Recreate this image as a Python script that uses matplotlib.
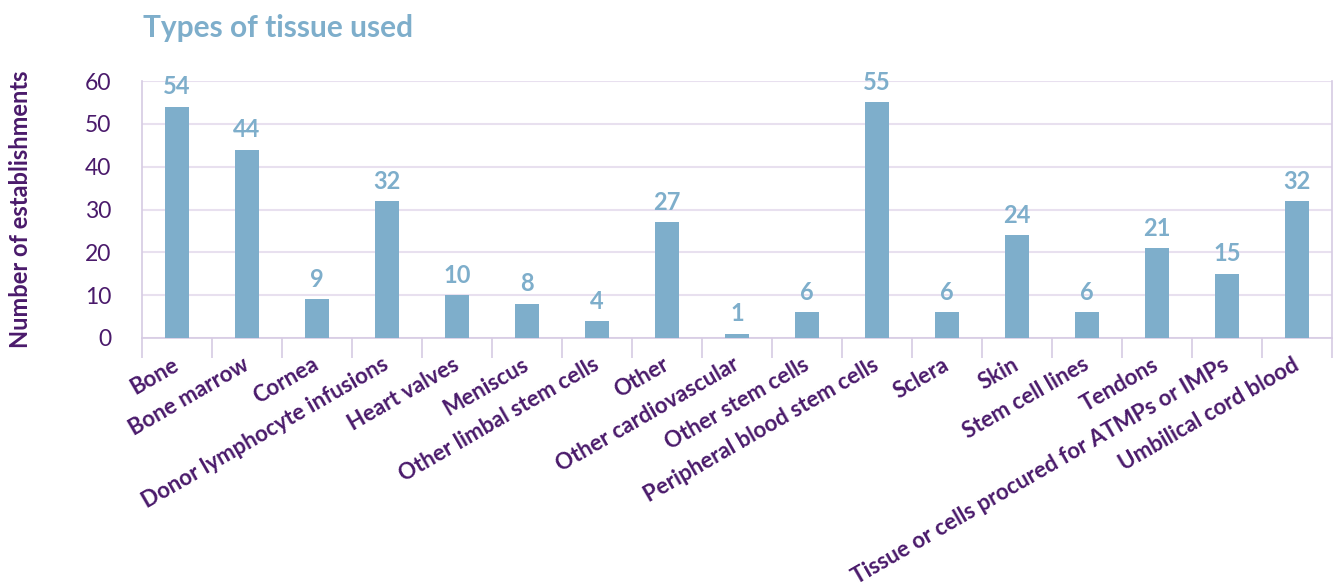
import matplotlib
matplotlib.use("Agg")
import matplotlib.pyplot as plt
import numpy as np

categories = ["Bone", "Bone marrow", "Cornea", "Donor lymphocyte infusions", "Heart valves",
              "Meniscus", "Other limbal stem cells", "Other", "Other cardiovascular",
              "Other stem cells", "Peripheral blood stem cells", "Sclera", "Skin",
              "Stem cell lines", "Tendons", "Tissue or cells procured for ATMPs or IMPs",
              "Umbilical cord blood"]
values = [54, 44, 9, 32, 10, 8, 4, 27, 1, 6, 55, 6, 24, 6, 21, 15, 32]
yticks = [0, 10, 20, 30, 40, 50, 60]

BLUE = "#7eaecb"
PURPLE = "#4a1a6b"
GRID = "#e8e0ef"
SPINE = "#d6cbe3"

plt.rcParams['font.family'] = ['Lato', 'DejaVu Sans']

fig = plt.figure(figsize=(13.44, 5.86), dpi=100)
ax = fig.add_axes([142/1344, 1-338/586, (1332-142)/1344, (338-81)/586])

x = np.arange(len(categories))
bars = ax.bar(x, values, width=0.33, color=BLUE, zorder=3)
for xi, v in zip(x, values):
    ax.annotate(str(v), (xi, v), xytext=(0, 6), textcoords="offset points",
                ha="center", va="bottom", color=BLUE, fontsize=17, fontweight="bold")

ax.set_xlim(-0.5, len(categories) - 0.5)
ax.set_ylim(0, 60)
ax.set_yticks(yticks)
ax.set_yticklabels([str(t) for t in yticks])
ax.yaxis.grid(True, color=GRID, linewidth=1.5, zorder=0)
ax.tick_params(axis="y", length=0, pad=22, labelsize=16.5, labelcolor=PURPLE)

ax.set_xticks(x)
ax.set_xticklabels(categories, rotation=30, ha="right", va="center",
                   rotation_mode="anchor", fontsize=16, fontweight="bold", color=PURPLE)
ax.tick_params(axis="x", which="major", length=0, pad=18)
ax.set_xticks(np.arange(-0.5, len(categories), 1), minor=True)
ax.tick_params(axis="x", which="minor", length=14.4, width=1.2, color=SPINE, direction="out")

ax.spines["top"].set_visible(False)
for s in ["left", "right", "bottom"]:
    ax.spines[s].set_color(SPINE)
    ax.spines[s].set_linewidth(1.2)

ax.set_ylabel("Number of establishments", fontsize=17, fontweight="bold", color=PURPLE)
ax.yaxis.set_label_coords(-110/1190, 0.5)

fig.text(143/1344, 1-28/586, "Types of tissue used", fontsize=21.5, fontweight="bold",
         color=BLUE, ha="left", va="center")

fig.savefig("out.png", dpi=100)
